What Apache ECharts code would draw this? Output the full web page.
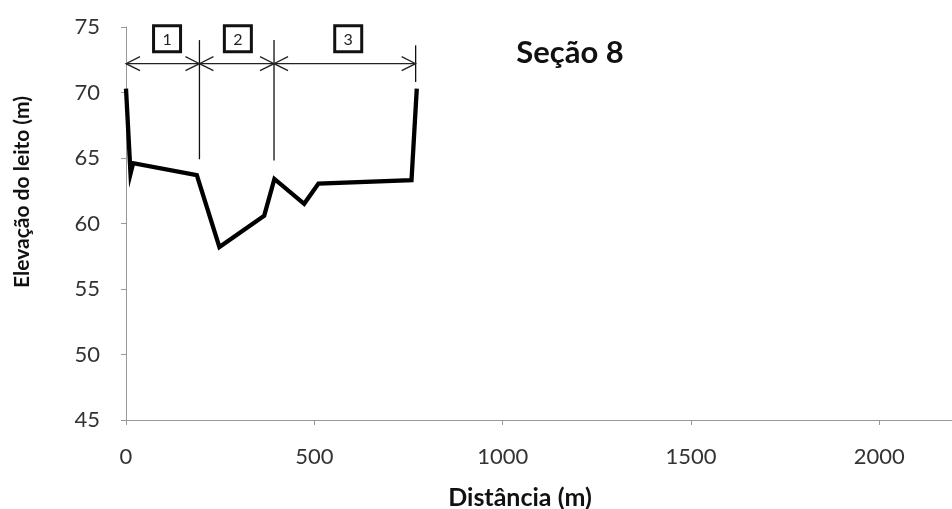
<!DOCTYPE html>
<html>
<head>
<meta charset="utf-8">
<script src="https://cdn.jsdelivr.net/npm/echarts@6/dist/echarts.min.js"></script>
<style>
html,body{margin:0;padding:0;background:#fff;}
#chart{width:952px;height:509px;}
</style>
</head>
<body>
<div id="chart"></div>
<script>
// Bed profile (distance m, elevation m)
var distances = [0, 12, 19, 188, 248, 367, 394, 473, 511, 758, 772];
var elevations = [70.3, 63.8, 64.6, 63.7, 58.2, 60.6, 63.4, 61.5, 63.05, 63.3, 70.3];

// Annotation: vertical separators [x, yTop, yBottom]
var separators = [[195, 74.0, 64.9], [393, 74.0, 64.8], [769, 73.6, 70.8]];
// Double arrows [xStart, xEnd, y]
var arrows = [[0, 195, 72.2], [195, 393, 72.2], [393, 769, 72.2]];
// Zone boxes [x, y, label]
var zoneBoxes = [[109, 74.1, '1'], [297, 74.1, '2'], [590, 74.1, '3']];

var xTickStep = 500;
var xMin = 0, xMax = 2193;   // visible part of the distance axis
var yTicks = [45, 50, 55, 60, 65, 70, 75];

var FONT = 'Lato';
var chart = echarts.init(document.getElementById('chart'), null, {renderer: 'canvas'});

var profileData = distances.map(function (d, i) { return [d, elevations[i]]; });

var option = {
  backgroundColor: '#ffffff',
  animation: false,
  title: [
    {text: 'Seção 8', left: 565, top: 32, textAlign: 'center',
     textStyle: {fontFamily: FONT, fontSize: 31, fontWeight: 'bold', color: '#111'}},
    {text: 'Distância (m)', left: 515, top: 480, textAlign: 'center',
     textStyle: {fontFamily: FONT, fontSize: 25, fontWeight: 'bold', color: '#111'}}
  ],
  graphic: [
    {type: 'text', x: 22, y: 192, rotation: Math.PI / 2,
     style: {text: 'Elevação do leito (m)', font: 'bold 21px ' + FONT, fill: '#111',
             textAlign: 'center', textVerticalAlign: 'middle'}}
  ],
  grid: {left: 126, top: 27, bottom: 89, right: 0, containLabel: false},
  xAxis: {
    type: 'value', min: xMin, max: xMax, interval: xTickStep,
    axisLine: {lineStyle: {color: '#999', width: 1}},
    axisTick: {show: true, length: 5, lineStyle: {color: '#999'}},
    splitLine: {show: false},
    axisLabel: {margin: 26, fontFamily: FONT, fontSize: 22, color: '#333', showMaxLabel: false,
      formatter: function (v) { return v % xTickStep === 0 ? String(v) : ''; }}
  },
  yAxis: {
    type: 'value', min: yTicks[0], max: yTicks[yTicks.length - 1], interval: 5,
    axisLine: {show: true, lineStyle: {color: '#999', width: 1}},
    axisTick: {show: true, length: 5, lineStyle: {color: '#999'}},
    splitLine: {show: false},
    axisLabel: {margin: 26, fontFamily: FONT, fontSize: 22, color: '#333'}
  },
  series: [
    {
      type: 'line', data: profileData, symbol: 'none', clip: false,
      lineStyle: {color: '#000', width: 4.3, join: 'miter', miterLimit: 10}
    },
    {
      type: 'custom', clip: false,
      data: separators,
      renderItem: function (params, api) {
        var p1 = api.coord([api.value(0), api.value(1)]);
        var p2 = api.coord([api.value(0), api.value(2)]);
        return {type: 'line', shape: {x1: p1[0], y1: p1[1], x2: p2[0], y2: p2[1]},
                style: {stroke: '#111', lineWidth: 1.3}};
      }
    },
    {
      type: 'custom', clip: false,
      data: arrows,
      renderItem: function (params, api) {
        var a = api.coord([api.value(0), api.value(2)]);
        var b = api.coord([api.value(1), api.value(2)]);
        var hl = 14, hw = 7;
        var st = {stroke: '#222', lineWidth: 1.3, fill: null};
        return {type: 'group', children: [
          {type: 'line', shape: {x1: a[0], y1: a[1], x2: b[0], y2: b[1]}, style: st},
          {type: 'polyline', shape: {points: [[a[0] + hl, a[1] - hw], [a[0], a[1]], [a[0] + hl, a[1] + hw]]}, style: st},
          {type: 'polyline', shape: {points: [[b[0] - hl, b[1] - hw], [b[0], b[1]], [b[0] - hl, b[1] + hw]]}, style: st}
        ]};
      }
    },
    {
      type: 'custom', clip: false,
      data: zoneBoxes,
      renderItem: function (params, api) {
        var c = api.coord([api.value(0), api.value(1)]);
        var w = 27, h = 26;
        return {type: 'group', children: [
          {type: 'rect', shape: {x: c[0] - w / 2, y: c[1] - h / 2, width: w, height: h},
           style: {stroke: '#111', lineWidth: 3, fill: '#fff'}},
          {type: 'text', style: {text: zoneBoxes[params.dataIndex][2], x: c[0], y: c[1] + 1,
            textAlign: 'center', textVerticalAlign: 'middle', font: '16px ' + FONT, fill: '#222'}}
        ]};
      }
    }
  ]
};
chart.setOption(option);
</script>
</body>
</html>
